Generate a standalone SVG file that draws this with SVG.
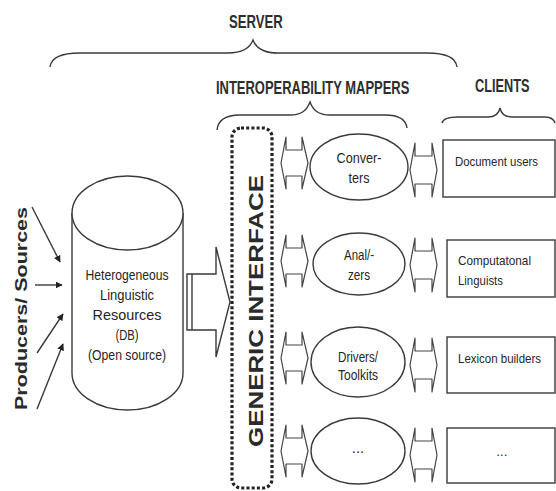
<svg xmlns="http://www.w3.org/2000/svg" width="556" height="491" viewBox="0 0 556 491">
  <defs>
    <style>
      .ln { fill: none; stroke: #3a3a3a; stroke-width: 1.4; }
      .shape { fill: #fff; stroke: #3a3a3a; stroke-width: 1.4; }
      .dbl { fill: #fff; stroke: #444; stroke-width: 1.2; stroke-linejoin: round; }
      .hdr { font-family: "Liberation Sans", Arial, sans-serif; font-size: 18px; font-weight: bold; fill: #2e2e2e; }
      .lbl { font-family: "Liberation Sans", Arial, sans-serif; font-size: 15px; fill: #262626; }
      .cl { font-family: "Liberation Sans", Arial, sans-serif; font-size: 13.5px; fill: #262626; }
      .big { font-family: "Liberation Sans", Arial, sans-serif; font-weight: bold; fill: #2a2a2a; }
    </style>
    <marker id="ah" viewBox="0 0 10 10" refX="9" refY="5" markerWidth="7" markerHeight="7" orient="auto" markerUnits="userSpaceOnUse">
      <path d="M0,0 L10,5 L0,10 z" fill="#222"/>
    </marker>
    <!-- double-headed block arrow, centred on (0,0) -->
    <path id="dblL" d="M-13,0 L-8,-26 L-8,-13 L8,-13 L8,-26 L14,0 L8,26 L8,13 L-8,13 L-8,26 Z"/>
    <path id="dblR" d="M-13,0 L-8,-27 L-8,-14 L9,-14 L9,-27 L14,0 L9,27 L9,14 L-8,14 L-8,27 Z"/>
  </defs>

  <rect width="556" height="491" fill="#fff"/>

  <!-- headers and braces (condensed by a horizontal scale) -->
  <g id="server-label">
    <text class="hdr" transform="translate(229,28) scale(0.73,1)">SERVER</text>
    <path class="ln" d="M50,67 C51,58 60,53 80,53 L228,53 C243,53 250,48 253,40 C256,48 263,53 278,53 L427,53 C447,53 456,58 457,67"/>
  </g>
  <g id="mappers-label">
    <text class="hdr" transform="translate(216,94) scale(0.72,1)">INTEROPERABILITY MAPPERS</text>
    <path class="ln" d="M217,130 C218,120 225,115 240,115 L290,115 C302,115 307,110 310,102 C313,110 318,115 330,115 L385,115 C400,115 406,120 407,128"/>
  </g>
  <g id="clients-label">
    <text class="hdr" transform="translate(475,92) scale(0.71,1)">CLIENTS</text>
    <path class="ln" d="M442,123 C443,119 448,117 458,117 L488,117 C496,117 499,113 500,108 C501,113 504,117 512,117 L545,117 C551,117 554,120 555,123"/>
  </g>

  <!-- producers -->
  <g id="producers">
    <text class="big" font-size="17" transform="translate(27,410) rotate(-90)" textLength="203" lengthAdjust="spacingAndGlyphs">Producers/ Sources</text>
  </g>

  <!-- database cylinder -->
  <g id="resources-db">
    <path class="shape" d="M72,213 L72,373 A55.5,37 0 0 0 183,373 L183,213"/>
    <ellipse class="shape" cx="127.5" cy="213" rx="55.5" ry="37"/>
    <g class="lbl" text-anchor="middle">
      <text x="127" y="280" textLength="83" lengthAdjust="spacingAndGlyphs">Heterogeneous</text>
      <text x="127" y="300" textLength="54" lengthAdjust="spacingAndGlyphs">Linguistic</text>
      <text x="127" y="320" textLength="69" lengthAdjust="spacingAndGlyphs">Resources</text>
      <text x="127" y="340" textLength="23" lengthAdjust="spacingAndGlyphs">(DB)</text>
      <text x="127" y="360" textLength="78" lengthAdjust="spacingAndGlyphs">(Open source)</text>
    </g>
  </g>

  <!-- generic interface -->
  <g id="generic-interface">
    <rect x="232" y="128" width="40" height="360" rx="9" fill="none" stroke="#222" stroke-width="3.2" stroke-dasharray="3 2.2"/>
    <text class="big" font-size="21" transform="translate(263,447) rotate(-90)" textLength="272" lengthAdjust="spacingAndGlyphs">GENERIC INTERFACE</text>
  </g>

  <!-- mappers -->
  <g id="converters">
    <ellipse class="shape" cx="359" cy="167" rx="49" ry="33"/>
    <text class="lbl" x="359" y="163" text-anchor="middle" textLength="45" lengthAdjust="spacingAndGlyphs">Conver-</text>
    <text class="lbl" x="359" y="183" text-anchor="middle" textLength="21" lengthAdjust="spacingAndGlyphs">ters</text>
  </g>
  <g id="analyzers">
    <ellipse class="shape" cx="359" cy="264" rx="46" ry="31"/>
    <text class="lbl" x="359" y="260" text-anchor="middle" textLength="30" lengthAdjust="spacingAndGlyphs">Anal/-</text>
    <text class="lbl" x="359" y="280" text-anchor="middle" textLength="22" lengthAdjust="spacingAndGlyphs">zers</text>
  </g>
  <g id="drivers">
    <ellipse class="shape" cx="358" cy="362" rx="47" ry="35"/>
    <text class="lbl" x="358" y="362" text-anchor="middle" textLength="40" lengthAdjust="spacingAndGlyphs">Drivers/</text>
    <text class="lbl" x="358" y="380" text-anchor="middle" textLength="40" lengthAdjust="spacingAndGlyphs">Toolkits</text>
  </g>
  <g id="mapper-more">
    <ellipse class="shape" cx="358" cy="451" rx="47" ry="33"/>
    <text class="lbl" x="358" y="453" text-anchor="middle" font-size="11">...</text>
  </g>

  <!-- clients -->
  <g id="document-users">
    <rect class="shape" x="443" y="140" width="112" height="57"/>
    <text class="cl" x="455" y="166" textLength="83" lengthAdjust="spacingAndGlyphs">Document users</text>
  </g>
  <g id="computational-linguists">
    <rect class="shape" x="447" y="240" width="108" height="57"/>
    <text class="cl" x="458" y="265" textLength="73" lengthAdjust="spacingAndGlyphs">Computatonal</text>
    <text class="cl" x="458" y="285" textLength="45" lengthAdjust="spacingAndGlyphs">Linguists</text>
  </g>
  <g id="lexicon-builders">
    <rect class="shape" x="447" y="337" width="108" height="56"/>
    <text class="cl" x="458" y="363" textLength="83" lengthAdjust="spacingAndGlyphs">Lexicon builders</text>
  </g>
  <g id="client-more">
    <rect class="shape" x="447" y="428" width="108" height="55"/>
    <text class="cl" x="502" y="456" text-anchor="middle" font-size="11">...</text>
  </g>

  <!-- connectors -->
  <g id="connectors">
    <line class="ln" x1="32" y1="207" x2="60" y2="262" marker-end="url(#ah)"/>
    <line class="ln" x1="35" y1="285" x2="62" y2="285" marker-end="url(#ah)"/>
    <line class="ln" x1="37" y1="353" x2="63" y2="314" marker-end="url(#ah)"/>
    <line class="ln" x1="37" y1="409" x2="63" y2="344" marker-end="url(#ah)"/>

    <!-- block arrow from the database into the interface -->
    <path class="shape" d="M187,274 L216,274 L216,247 L230,302 L216,357 L216,330 L187,330 Z"/>
    <line class="ln" x1="192" y1="274" x2="192" y2="330"/>

    <use href="#dblL" class="dbl" x="294" y="163"/>
    <use href="#dblL" class="dbl" x="294" y="261"/>
    <use href="#dblL" class="dbl" x="294" y="358"/>
    <use href="#dblL" class="dbl" x="294" y="451"/>

    <use href="#dblR" class="dbl" x="423" y="170"/>
    <use href="#dblR" class="dbl" x="423" y="265"/>
    <use href="#dblR" class="dbl" x="423" y="365"/>
    <use href="#dblR" class="dbl" x="423" y="455"/>
  </g>
</svg>
